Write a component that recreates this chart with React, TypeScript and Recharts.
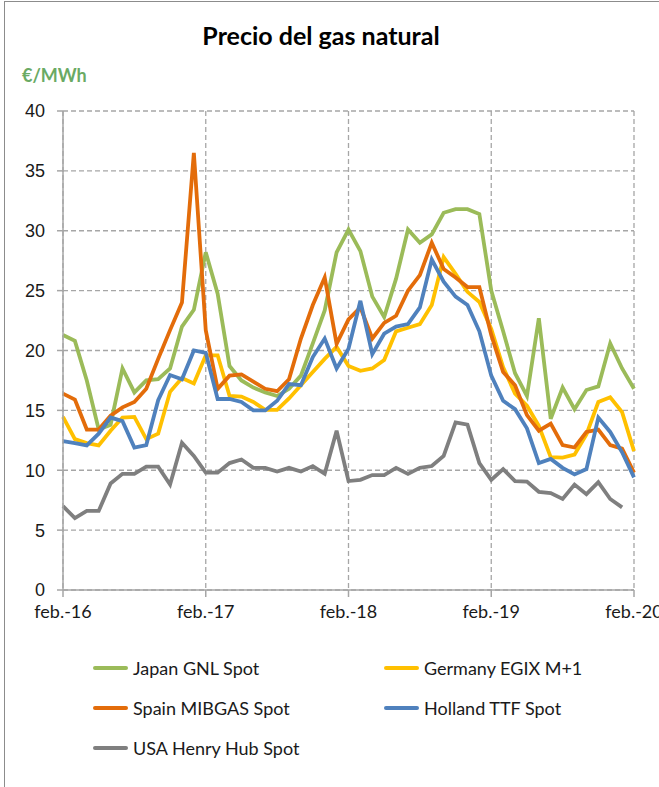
import { LineChart, Line, XAxis, YAxis, CartesianGrid } from "recharts";

const months = [
  "feb.-16", "mar.-16", "abr.-16", "may.-16", "jun.-16", "jul.-16", "ago.-16", "sep.-16", "oct.-16", "nov.-16", "dic.-16", "ene.-17",
  "feb.-17", "mar.-17", "abr.-17", "may.-17", "jun.-17", "jul.-17", "ago.-17", "sep.-17", "oct.-17", "nov.-17", "dic.-17", "ene.-18",
  "feb.-18", "mar.-18", "abr.-18", "may.-18", "jun.-18", "jul.-18", "ago.-18", "sep.-18", "oct.-18", "nov.-18", "dic.-18", "ene.-19",
  "feb.-19", "mar.-19", "abr.-19", "may.-19", "jun.-19", "jul.-19", "ago.-19", "sep.-19", "oct.-19", "nov.-19", "dic.-19", "ene.-20",
  "feb.-20",
];

const xTicks = ["feb.-16", "feb.-17", "feb.-18", "feb.-19", "feb.-20"];
const yTicks = [0, 5, 10, 15, 20, 25, 30, 35, 40];

const japan = [
  21.3, 20.8, 17.5, 13.4, 13.8, 18.5, 16.5, 17.5, 17.6, 18.5, 22.0, 23.4,
  28.2, 24.75, 18.7, 17.5, 16.9, 16.5, 16.2, 16.8, 17.9, 20.6, 23.35, 28.2,
  30.1, 28.3, 24.5, 22.8, 26.0, 30.1, 29.0, 29.7, 31.5, 31.8, 31.8, 31.4,
  25.0, 21.6, 18.1, 16.2, 22.7, 14.3, 16.9, 15.1, 16.7, 17.0, 20.6, 18.5,
  16.8,
];

const germany = [
  14.45, 12.6, 12.27, 12.07, 13.3, 14.4, 14.45, 12.6, 13.05, 16.55, 17.7, 17.25,
  19.6, 19.6, 16.2, 16.15, 15.7, 15.05, 15.05, 16.0, 17.1, 18.2, 19.3, 20.3,
  18.7, 18.3, 18.5, 19.2, 21.6, 21.9, 22.2, 23.8, 27.8, 26.4, 24.9, 24.05,
  21.8, 18.6, 16.4, 15.4, 13.7, 11.1, 11.05, 11.3, 13.0, 15.7, 16.1, 14.85,
  11.6,
];

const spain = [
  16.4, 15.9, 13.4, 13.4, 14.55, 15.25, 15.7, 16.8, 19.3, 21.7, 24.0, 36.5,
  21.7, 16.8, 17.9, 18.0, 17.4, 16.8, 16.6, 17.6, 21.0, 23.8, 26.1, 20.55,
  22.6, 23.6, 21.0, 22.3, 22.9, 25.0, 26.3, 29.0, 26.8, 26.1, 25.3, 25.3,
  21.3, 18.2, 17.1, 14.6, 13.3, 13.9, 12.1, 11.9, 13.2, 13.4, 12.1, 11.8,
  9.8,
];

const holland = [
  12.44, 12.27, 12.07, 13.05, 14.4, 14.1, 11.9, 12.1, 15.85, 17.95, 17.6, 20.0,
  19.8, 15.95, 15.95, 15.7, 15.0, 15.0, 15.8, 17.2, 17.1, 19.45, 21.0, 18.5,
  20.15, 24.15, 19.7, 21.4, 22.0, 22.2, 23.6, 27.6, 25.75, 24.5, 23.8, 21.6,
  17.9, 15.8, 15.1, 13.5, 10.6, 10.95, 10.2, 9.65, 10.1, 14.4, 13.2, 11.5,
  9.4,
];

const usa = [
  7.0, 6.0, 6.6, 6.6, 8.9, 9.7, 9.7, 10.3, 10.3, 8.8, 12.3, 11.2,
  9.8, 9.8, 10.6, 10.9, 10.2, 10.2, 9.9, 10.2, 9.9, 10.35, 9.7, 13.3,
  9.1, 9.2, 9.6, 9.6, 10.2, 9.7, 10.2, 10.35, 11.2, 14.0, 13.8, 10.6,
  9.2, 10.1, 9.1, 9.05, 8.2, 8.1, 7.6, 8.8, 8.0, 9.0, 7.6, 6.9,
  null,
];

const series = [
  { key: "japan", name: "Japan GNL Spot", color: "#9bbb59" },
  { key: "germany", name: "Germany EGIX M+1", color: "#ffc000" },
  { key: "spain", name: "Spain MIBGAS Spot", color: "#e36c0a" },
  { key: "holland", name: "Holland TTF Spot", color: "#4f81bd" },
  { key: "usa", name: "USA Henry Hub Spot", color: "#7f7f7f" },
];

const data = months.map((month, i) => ({
  month,
  japan: japan[i],
  germany: germany[i],
  spain: spain[i],
  holland: holland[i],
  usa: usa[i],
}));

const axisColor = "#a6a6a6";

export default function App() {
  return (
    <div
      style={{
        position: "absolute",
        left: 0,
        top: 0,
        width: 659,
        height: 787,
        overflow: "hidden",
        background: "#fff",
        fontFamily: "Lato, sans-serif",
      }}
    >
      {/* frame of the original figure */}
      <div
        style={{
          position: "absolute",
          left: 4,
          top: 1,
          width: 700,
          height: 820,
          borderLeft: "1px solid #8c8c8c",
          borderTop: "1px solid #8c8c8c",
        }}
      />
      <div
        style={{
          position: "absolute",
          left: 0,
          width: 642,
          top: 20,
          textAlign: "center",
          fontSize: 25,
          fontWeight: 700,
          color: "#000",
        }}
      >
        Precio del gas natural
      </div>
      <div
        style={{
          position: "absolute",
          left: 22,
          top: 64,
          fontSize: 18,
          fontWeight: 700,
          color: "#6aaa64",
        }}
      >
        €/MWh
      </div>

      <div style={{ position: "absolute", left: 0, top: 0 }}>
        <LineChart
          width={659}
          height={787}
          data={data}
          margin={{ top: 111, right: 25, bottom: 167, left: 0 }}
        >
          <CartesianGrid
            stroke={axisColor}
            strokeWidth={1.3}
            strokeDasharray="5 3"
          />
          <XAxis
            dataKey="month"
            ticks={xTicks}
            interval={0}
            stroke={axisColor}
            strokeWidth={1.5}
            tickSize={7}
            tickMargin={8}
            height={30}
            tick={{ fill: "#1a1a1a", fontSize: 18, fontFamily: "Lato" }}
          />
          <YAxis
            domain={[0, 40]}
            ticks={yTicks}
            width={63}
            stroke={axisColor}
            strokeWidth={1.5}
            tickSize={6}
            tickMargin={12}
            tick={{ fill: "#1a1a1a", fontSize: 18, fontFamily: "Liberation Sans" }}
          />
          {series.map((s) => (
            <Line
              key={s.key}
              type="linear"
              dataKey={s.key}
              name={s.name}
              stroke={s.color}
              strokeWidth={3.8}
              dot={false}
              isAnimationActive={false}
            />
          ))}
        </LineChart>
      </div>

      {/* legend */}
      <div
        style={{
          position: "absolute",
          left: 93,
          top: 656,
          display: "grid",
          gridTemplateColumns: "291px 260px",
          rowGap: 17,
          fontSize: 18,
          color: "#1a1a1a",
        }}
      >
        {series.map((s) => (
          <div key={s.key} style={{ display: "flex", alignItems: "center", height: 23 }}>
            <span
              style={{
                display: "inline-block",
                width: 35,
                height: 4,
                borderRadius: 2,
                background: s.color,
                marginRight: 5,
              }}
            />
            <span>{s.name}</span>
          </div>
        ))}
      </div>
    </div>
  );
}
